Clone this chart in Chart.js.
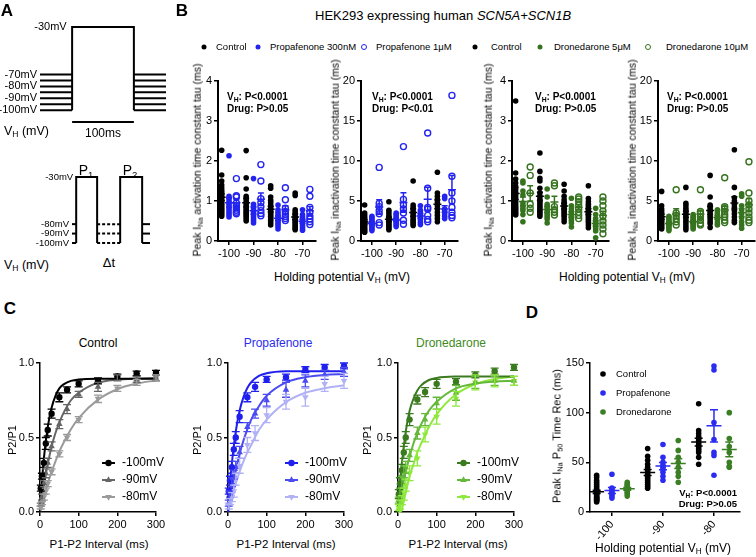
<!DOCTYPE html>
<html>
<head>
<meta charset="utf-8">
<title>Peak INa kinetics</title>
<script src="https://cdn.jsdelivr.net/npm/chart.js@4.4.1/dist/chart.umd.min.js"></script>
<style>
  html, body { margin: 0; padding: 0; background: #fff; }
  #fig { position: relative; width: 756px; height: 557px; overflow: hidden;
         font-family: "Liberation Sans", Arial, Helvetica, sans-serif; color: #000; }
  #fig canvas { position: absolute; }
  .t { position: absolute; white-space: nowrap; line-height: 1; z-index: 2; }
  .c { transform: translate(-50%, -50%); }
  .l { transform: translate(0, -50%); }
  .r { transform: translate(-100%, -50%); }
  .rot { transform: translate(-50%, -50%) rotate(-90deg); }
  .b { font-weight: bold; }
  sub { font-size: 68%; vertical-align: -0.3em; line-height: 0; }
  .dot, .odot { position: absolute; border-radius: 50%; transform: translate(-50%, -50%); z-index: 2; }
  .dot { width: 5px; height: 5px; }
  .odot { width: 4px; height: 4px; border: 1.3px solid; }
</style>
</head>
<body>
<div id="fig">
  <!-- A -->
  <div class="t c b" style="left:7px;top:10px;font-size:17px">A</div>
  <div class="t l" style="left:4px;top:131px;font-size:12.5px">V<sub>H</sub> (mV)</div>
  <div class="t c" style="left:103px;top:133px;font-size:12px">100ms</div>
  <div class="t c" style="left:86px;top:170px;font-size:14px">P<sub>1</sub></div>
  <div class="t c" style="left:130px;top:170px;font-size:14px">P<sub>2</sub></div>
  <div class="t c" style="left:109px;top:262px;font-size:13px">Δt</div>
  <div class="t l" style="left:4px;top:265px;font-size:12.5px">V<sub>H</sub> (mV)</div>

  <!-- B -->
  <div class="t c b" style="left:182px;top:10px;font-size:17px">B</div>
  <div class="t l" style="left:315px;top:15px;font-size:13px">HEK293 expressing human <i>SCN5A+SCN1B</i></div>

  <span class="dot" style="left:204px;top:47px;background:#000"></span>
  <div class="t l" style="left:216px;top:47px;font-size:9.5px">Control</div>
  <span class="dot" style="left:258px;top:47px;background:#2424f0"></span>
  <div class="t l" style="left:270px;top:47px;font-size:9.5px">Propafenone 300nM</div>
  <span class="odot" style="left:364px;top:47px;border-color:#2424f0"></span>
  <div class="t l" style="left:376px;top:47px;font-size:9.5px">Propafenone 1μM</div>
  <span class="dot" style="left:475px;top:47px;background:#000"></span>
  <div class="t l" style="left:491px;top:47px;font-size:9.5px">Control</div>
  <span class="dot" style="left:540px;top:47px;background:#36731f"></span>
  <div class="t l" style="left:554px;top:47px;font-size:9.5px">Dronedarone 5μM</div>
  <span class="odot" style="left:648px;top:47px;border-color:#36731f"></span>
  <div class="t l" style="left:666px;top:47px;font-size:9.5px">Dronedarone 10μM</div>

  <div class="t rot" style="left:197px;top:160px;font-size:10.5px">Peak I<sub>Na</sub> activation time constant tau (ms)</div>
  <div class="t rot" style="left:335px;top:160px;font-size:10.5px">Peak I<sub>Na</sub> inactivation time constant tau (ms)</div>
  <div class="t rot" style="left:488px;top:160px;font-size:10.5px">Peak I<sub>Na</sub> activation time constant tau (ms)</div>
  <div class="t rot" style="left:632px;top:160px;font-size:10.5px">Peak I<sub>Na</sub> inactivation time constant tau (ms)</div>

  <div class="t c" style="left:342px;top:277px;font-size:12px">Holding potential V<sub>H</sub> (mV)</div>
  <div class="t c" style="left:627px;top:277px;font-size:12px">Holding potential V<sub>H</sub> (mV)</div>

  <div class="t l b" style="left:227px;top:97px;font-size:10px">V<sub>H</sub>: P&lt;0.0001</div>
  <div class="t l b" style="left:227px;top:109px;font-size:10px">Drug: P&gt;0.05</div>
  <div class="t l b" style="left:372px;top:97px;font-size:10px">V<sub>H</sub>: P&lt;0.0001</div>
  <div class="t l b" style="left:372px;top:109px;font-size:10px">Drug: P&lt;0.01</div>
  <div class="t l b" style="left:535px;top:97px;font-size:10px">V<sub>H</sub>: P&lt;0.0001</div>
  <div class="t l b" style="left:535px;top:109px;font-size:10px">Drug: P&gt;0.05</div>
  <div class="t l b" style="left:667px;top:97px;font-size:10px">V<sub>H</sub>: P&lt;0.0001</div>
  <div class="t l b" style="left:667px;top:109px;font-size:10px">Drug: P&gt;0.05</div>

  <!-- C -->
  <div class="t c b" style="left:10px;top:308px;font-size:17px">C</div>
  <div class="t c" style="left:98px;top:343px;font-size:12px">Control</div>
  <div class="t c" style="left:278px;top:343px;font-size:12px;color:#2b2bf0">Propafenone</div>
  <div class="t c" style="left:451px;top:343px;font-size:12px;color:#3f8a25">Dronedarone</div>
  <div class="t rot" style="left:12px;top:440px;font-size:11px">P2/P1</div>
  <div class="t rot" style="left:197px;top:440px;font-size:11px">P2/P1</div>
  <div class="t rot" style="left:367px;top:440px;font-size:11px">P2/P1</div>
  <div class="t c" style="left:99px;top:545px;font-size:11.5px">P1-P2 Interval (ms)</div>
  <div class="t c" style="left:286px;top:545px;font-size:11.5px">P1-P2 Interval (ms)</div>
  <div class="t c" style="left:458px;top:545px;font-size:11.5px">P1-P2 Interval (ms)</div>

  <!-- D -->
  <div class="t c b" style="left:532px;top:312px;font-size:17px">D</div>
  <div class="t rot" style="left:557px;top:436px;font-size:11px">Peak I<sub>Na</sub> P<sub>50</sub> Time Rec (ms)</div>
  <div class="t c" style="left:663px;top:548px;font-size:12px">Holding potential V<sub>H</sub> (mV)</div>
  <div class="t r b" style="left:737px;top:493px;font-size:9.5px">V<sub>H</sub>: P&lt;0.0001</div>
  <div class="t r b" style="left:737px;top:504px;font-size:9.5px">Drug: P&gt;0.05</div>
</div>

<script>
// ---- panel A protocol ----
const holdTop = [-70, -75, -80, -85, -90, -95, -100];
const holdTopLabels = [-70, -80, -90, -100];
const stepV = -30;
const stepMs = 100;
const holdBottom = [-80, -90, -100];
const p1Ms = 20, gapMs = 22, p2Ms = 21;

// ---- panel B (one inner array per holding potential) ----
const vhLevels = [-100, -90, -80, -70];
const vhTicks = [-100, -90, -80, -70];
const actTicks = [0, 1, 2, 3, 4];
const inactTicks = [0, 5, 10, 15, 20];

const actCtrlP = [
  [2.27, 1.65, 1.50, 1.40, 1.33, 1.27, 1.22, 1.17, 1.12, 1.07, 1.02, 0.98, 0.94, 0.90, 0.86, 0.82, 0.78, 0.74, 0.70, 0.66, 0.62],
  [2.26, 1.58, 1.30, 1.12, 1.06, 1.00, 0.95, 0.90, 0.85, 0.80, 0.76, 0.72, 0.68, 0.64, 0.60, 0.55, 0.50],
  [1.38, 1.32, 1.10, 1.02, 0.96, 0.90, 0.85, 0.80, 0.75, 0.70, 0.66, 0.62, 0.58, 0.54, 0.50, 0.45, 0.40],
  [1.20, 1.14, 0.78, 0.73, 0.68, 0.63, 0.59, 0.55, 0.51, 0.47, 0.43, 0.39, 0.35, 0.31, 0.28]
];
const actProp300 = [
  [2.13, 1.12, 1.06, 1.00, 0.95, 0.90, 0.85, 0.80, 0.75, 0.70, 0.65, 0.60],
  [1.56, 0.92, 0.86, 0.80, 0.75, 0.70, 0.65, 0.60, 0.55, 0.50, 0.45],
  [0.90, 0.78, 0.72, 0.66, 0.61, 0.56, 0.51, 0.46, 0.41, 0.36, 0.30],
  [0.78, 0.66, 0.61, 0.56, 0.51, 0.46, 0.41, 0.36, 0.31, 0.27]
];
const actProp1 = [
  [1.56, 1.13, 1.10, 0.95, 0.88, 0.83, 0.77, 0.72, 0.68],
  [1.91, 1.50, 1.06, 0.96, 0.86, 0.76, 0.69, 0.63],
  [1.33, 1.03, 0.82, 0.74, 0.67, 0.61, 0.56, 0.51],
  [1.29, 1.12, 0.84, 0.72, 0.62, 0.55, 0.48, 0.41]
];
const inactCtrlP = [
  [4.5, 3.5, 3.25, 3.0, 2.8, 2.6, 2.4, 2.2, 2.0, 1.8, 1.6, 1.4, 1.25, 1.1],
  [4.9, 3.85, 3.55, 3.25, 3.0, 2.8, 2.6, 2.4, 2.2, 2.0, 1.8, 1.6, 1.4],
  [7.5, 4.5, 4.2, 3.9, 3.6, 3.3, 3.0, 2.7, 2.45, 2.2, 1.95],
  [8.6, 6.0, 5.6, 5.2, 4.8, 4.4, 4.0, 3.6, 3.2, 2.8, 2.4]
];
const inactProp300 = [
  [3.1, 2.9, 2.7, 2.5, 2.3, 2.1, 1.9, 1.7, 1.5, 1.3],
  [3.5, 3.3, 3.05, 2.8, 2.6, 2.4, 2.2, 2.0, 1.8],
  [4.4, 3.85, 3.55, 3.25, 2.95, 2.65, 2.35, 2.05],
  [5.6, 5.3, 4.0, 3.7, 3.4, 3.1, 2.8]
];
const inactProp1 = [
  [9.2, 4.7, 4.3, 3.8, 3.4, 2.3, 2.0],
  [11.8, 5.2, 4.5, 4.0, 3.5, 2.6, 2.1],
  [13.5, 6.6, 4.2, 4.0, 3.2, 2.7, 2.4],
  [18.2, 8.1, 6.0, 5.0, 4.2, 3.6, 3.2, 2.9]
];
const actCtrlD = [
  [3.50, 1.70, 1.55, 1.45, 1.36, 1.28, 1.21, 1.14, 1.08, 1.03, 0.98, 0.93, 0.88, 0.84, 0.80, 0.76, 0.72, 0.68, 0.65],
  [2.20, 1.74, 1.57, 1.50, 1.32, 1.20, 1.12, 1.05, 1.00, 0.95, 0.90, 0.85, 0.80, 0.76, 0.72, 0.67, 0.62],
  [1.42, 1.25, 1.12, 1.03, 0.97, 0.92, 0.87, 0.82, 0.77, 0.72, 0.67, 0.62, 0.55, 0.48],
  [1.38, 1.06, 0.98, 0.92, 0.86, 0.81, 0.76, 0.71, 0.66, 0.61, 0.56, 0.51, 0.46, 0.40, 0.33]
];
const actDro5 = [
  [1.50, 1.45, 1.25, 1.15, 0.95, 0.88, 0.82, 0.76, 0.66, 0.48],
  [1.30, 1.10, 0.92, 0.86, 0.80, 0.75, 0.70, 0.65, 0.60, 0.55, 0.45],
  [1.07, 0.88, 0.80, 0.73, 0.66, 0.61, 0.56, 0.51, 0.45, 0.35],
  [0.82, 0.66, 0.56, 0.50, 0.45, 0.40, 0.35, 0.30, 0.25, 0.08]
];
const actDro10 = [
  [1.85, 1.64, 1.20, 0.92, 0.82, 0.72],
  [1.45, 1.38, 0.86, 0.78, 0.72, 0.65],
  [1.10, 1.05, 0.98, 0.90, 0.80, 0.72, 0.64, 0.56],
  [1.10, 1.00, 0.88, 0.75, 0.62, 0.50, 0.40, 0.30, 0.18]
];
const inactCtrlD = [
  [6.2, 4.4, 4.0, 3.7, 3.4, 3.15, 2.9, 2.7, 2.5, 2.3, 2.1, 1.9, 1.7, 1.5],
  [6.7, 4.7, 4.4, 4.1, 3.8, 3.5, 3.2, 2.9, 2.6, 2.3, 2.0, 1.7, 1.4],
  [8.2, 5.5, 4.5, 4.3, 4.0, 3.7, 3.4, 3.1, 2.8, 2.5, 2.2, 1.7],
  [11.4, 6.7, 5.4, 5.0, 4.6, 4.2, 3.8, 3.4, 3.0, 2.6, 2.3]
];
const inactDro5 = [
  [3.1, 2.9, 2.7, 2.5, 2.3, 2.1, 1.9, 1.7, 1.5, 1.3],
  [3.3, 3.1, 2.9, 2.7, 2.5, 2.3, 2.1, 1.9, 1.7, 1.5],
  [3.9, 3.7, 3.4, 3.1, 2.8, 2.5, 2.2, 2.0],
  [5.9, 5.6, 4.4, 3.9, 3.4, 2.9, 2.4, 2.0, 1.6]
];
const inactDro10 = [
  [6.4, 3.5, 3.2, 2.8, 2.4, 2.0],
  [6.4, 3.7, 3.4, 3.0, 2.6, 2.2, 2.0],
  [7.9, 4.3, 4.0, 3.7, 3.3, 3.0, 2.6, 2.3],
  [9.9, 6.0, 5.0, 4.5, 4.0, 3.5, 3.0, 2.6, 2.3]
];

// ---- panel C (recovery from inactivation) ----
const intervals = [2, 5, 10, 15, 20, 30, 50, 70, 100, 150, 200, 250, 300];
const fitT = [0, 5, 10, 20, 30, 40, 50, 60, 80, 100, 150, 200, 250, 300];
const cxTicks = [0, 100, 200, 300];
const cyTicks = [0, 0.5, 1];

const ctl100 = [0.16, 0.24, 0.33, 0.46, 0.55, 0.66, 0.77, 0.82, 0.86, 0.88, 0.91, 0.93, 0.935];
const ctl90 = [0.05, 0.10, 0.19, 0.26, 0.33, 0.44, 0.59, 0.69, 0.79, 0.84, 0.90, 0.89, 0.90];
const ctl80 = [0.03, 0.06, 0.10, 0.14, 0.19, 0.27, 0.39, 0.50, 0.62, 0.76, 0.83, 0.87, 0.90];
const ctl100Err = [0.02, 0.02, 0.03, 0.04, 0.04, 0.03, 0.03, 0.02, 0.02, 0.02, 0.015, 0.015, 0.015];
const ctl90Err = [0.01, 0.02, 0.02, 0.03, 0.03, 0.03, 0.03, 0.03, 0.02, 0.03, 0.02, 0.02, 0.02];
const ctl80Err = [0.01, 0.01, 0.02, 0.02, 0.02, 0.02, 0.02, 0.02, 0.02, 0.025, 0.02, 0.02, 0.02];
const ctl100Fit = [0, 0.20, 0.36, 0.57, 0.70, 0.78, 0.83, 0.855, 0.88, 0.89, 0.895, 0.895, 0.895, 0.895];
const ctl90Fit = [0, 0.095, 0.18, 0.32, 0.44, 0.53, 0.60, 0.66, 0.75, 0.80, 0.868, 0.889, 0.896, 0.899];
const ctl80Fit = [0, 0.052, 0.10, 0.19, 0.27, 0.34, 0.405, 0.46, 0.555, 0.63, 0.754, 0.824, 0.862, 0.883];

const prop100 = [0.14, 0.21, 0.30, 0.42, 0.50, 0.64, 0.77, 0.84, 0.89, 0.905, 0.955, 0.97, 0.98];
const prop90 = [0.06, 0.12, 0.20, 0.25, 0.30, 0.40, 0.57, 0.66, 0.75, 0.82, 0.88, 0.92, 0.94];
const prop80 = [0.04, 0.07, 0.10, 0.14, 0.22, 0.31, 0.45, 0.53, 0.65, 0.74, 0.77, 0.86, 0.88];
const prop100Err = [0.02, 0.03, 0.04, 0.04, 0.04, 0.04, 0.03, 0.03, 0.02, 0.02, 0.02, 0.02, 0.02];
const prop90Err = [0.02, 0.02, 0.03, 0.03, 0.04, 0.04, 0.03, 0.03, 0.04, 0.05, 0.04, 0.03, 0.03];
const prop80Err = [0.02, 0.02, 0.03, 0.04, 0.04, 0.05, 0.05, 0.05, 0.05, 0.05, 0.06, 0.05, 0.05];
const prop100Fit = [0, 0.18, 0.326, 0.54, 0.68, 0.771, 0.832, 0.871, 0.913, 0.931, 0.944, 0.945, 0.945, 0.945];
const prop90Fit = [0, 0.08, 0.155, 0.28, 0.39, 0.48, 0.555, 0.62, 0.71, 0.78, 0.87, 0.905, 0.92, 0.925];
const prop80Fit = [0, 0.053, 0.10, 0.19, 0.27, 0.34, 0.40, 0.45, 0.55, 0.62, 0.737, 0.80, 0.83, 0.85];

const dro100 = [0.12, 0.19, 0.28, 0.40, 0.50, 0.62, 0.755, 0.805, 0.86, 0.875, 0.92, 0.945, 0.97];
const dro90 = [0.08, 0.13, 0.20, 0.27, 0.30, 0.38, 0.53, 0.62, 0.73, 0.80, 0.87, 0.88, 0.88];
const dro80 = [0.03, 0.05, 0.08, 0.12, 0.18, 0.26, 0.36, 0.52, 0.64, 0.76, 0.87, 0.88, 0.88];
const dro100Err = [0.03, 0.04, 0.04, 0.04, 0.04, 0.04, 0.03, 0.03, 0.03, 0.02, 0.02, 0.02, 0.02];
const dro90Err = [0.02, 0.03, 0.04, 0.04, 0.04, 0.04, 0.04, 0.04, 0.04, 0.05, 0.04, 0.03, 0.03];
const dro80Err = [0.02, 0.03, 0.03, 0.04, 0.04, 0.05, 0.05, 0.05, 0.05, 0.05, 0.05, 0.04, 0.03];
const dro100Fit = [0, 0.185, 0.33, 0.54, 0.68, 0.76, 0.816, 0.85, 0.886, 0.90, 0.909, 0.91, 0.91, 0.91];
const dro90Fit = [0, 0.077, 0.147, 0.27, 0.37, 0.46, 0.53, 0.59, 0.68, 0.74, 0.83, 0.862, 0.876, 0.88];
const dro80Fit = [0, 0.0, 0.02, 0.13, 0.24, 0.32, 0.40, 0.46, 0.57, 0.655, 0.79, 0.858, 0.893, 0.91];

// ---- panel D (P50 recovery time) ----
const dLevels = [-100, -90, -80];
const dyTicks = [0, 50, 100, 150];
const p50Ctrl = [
  [37, 35, 32, 30, 28, 26, 24, 22, 21, 20, 19, 18, 17, 16, 15, 14, 14, 13, 12, 12, 11, 10],
  [64, 56, 52, 48, 45, 42, 40, 38, 36, 34, 32, 30, 28, 26, 24],
  [109, 82, 79, 76, 74, 72, 70, 68, 66, 64, 62, 60, 55, 48]
];
const p50Prop = [
  [38, 24, 22, 20, 18, 16, 14],
  [68, 55, 50, 47, 45, 43, 40, 36, 32],
  [147, 143, 90, 73, 60, 57, 37]
];
const p50Dro = [
  [30, 28, 27, 25, 24, 23, 22, 20, 18, 16],
  [72, 62, 55, 50, 45, 40, 36, 30],
  [100, 74, 66, 60, 50, 46, 45]
];

// ---- styling ----
const FONT = '"Liberation Sans", Arial, Helvetica, sans-serif';
const BLUE = '#2424f0', GREEN = '#36731f';
const cCtrl = ['#000000', '#666666', '#9b9b9b'];
const cProp = ['#1f1fef', '#4b4bf2', '#b1b1f6'];
const cDro = ['#3b7b1f', '#64b83a', '#8fe93c'];

Chart.defaults.font.family = FONT;
Chart.defaults.font.size = 11;
Chart.defaults.color = '#000';
Chart.defaults.animation = false;
Chart.defaults.events = [];
Chart.defaults.plugins.legend.display = false;
Chart.defaults.plugins.tooltip.enabled = false;

// mean +- SEM for dot columns (drawn under or over the dots)
function drawMeanSem(chart, under) {
  const ctx = chart.ctx, xs = chart.scales.x, ys = chart.scales.y;
  chart.data.datasets.forEach(ds => {
    if (!ds.meanSem || !!ds.semUnder !== under) return;
    const groups = {};
    ds.data.forEach(p => (groups[p.x] = groups[p.x] || []).push(p.y));
    Object.keys(groups).forEach(k => {
      const v = groups[k], n = v.length;
      const m = v.reduce((a, b) => a + b, 0) / n;
      const sd = Math.sqrt(v.reduce((a, b) => a + (b - m) * (b - m), 0) / (n - 1));
      const se = sd / Math.sqrt(n);
      const px = xs.getPixelForValue(+k);
      const pm = ys.getPixelForValue(m), pt = ys.getPixelForValue(m + se), pb = ys.getPixelForValue(m - se);
      ctx.save();
      ctx.strokeStyle = ds.markColor;
      ctx.lineWidth = 1.5;
      ctx.beginPath();
      ctx.moveTo(px - ds.meanHalf, pm); ctx.lineTo(px + ds.meanHalf, pm);
      ctx.moveTo(px, pt); ctx.lineTo(px, pb);
      ctx.moveTo(px - ds.capHalf, pt); ctx.lineTo(px + ds.capHalf, pt);
      ctx.moveTo(px - ds.capHalf, pb); ctx.lineTo(px + ds.capHalf, pb);
      ctx.stroke();
      ctx.restore();
    });
  });
}
Chart.register({
  id: 'meanSem',
  beforeDatasetsDraw(chart) { drawMeanSem(chart, true); },
  afterDatasetsDraw(chart) { drawMeanSem(chart, false); }
});

// vertical error bars for panel C points
Chart.register({
  id: 'errBars',
  afterDatasetsDraw(chart) {
    const ctx = chart.ctx, ys = chart.scales.y;
    chart.data.datasets.forEach((ds, i) => {
      if (!ds.err) return;
      const meta = chart.getDatasetMeta(i);
      ctx.save();
      ctx.strokeStyle = ds.markColor;
      ctx.lineWidth = 1.3;
      meta.data.forEach((el, j) => {
        const y = ds.data[j].y, e = ds.err[j];
        const t = ys.getPixelForValue(y + e), b = ys.getPixelForValue(y - e);
        ctx.beginPath();
        ctx.moveTo(el.x, t); ctx.lineTo(el.x, b);
        ctx.moveTo(el.x - 4, t); ctx.lineTo(el.x + 4, t);
        ctx.moveTo(el.x - 4, b); ctx.lineTo(el.x + 4, b);
        ctx.stroke();
      });
      ctx.restore();
    });
  }
});

function mark(ctx, shape, x, y, r, color, rot) {
  ctx.fillStyle = color;
  ctx.beginPath();
  if (shape === 'triangle') {
    let a = (rot || 0) * Math.PI / 180;
    for (let k = 0; k < 3; k++) {
      const px = x + Math.sin(a) * r, py = y - Math.cos(a) * r;
      if (k) ctx.lineTo(px, py); else ctx.moveTo(px, py);
      a += 2 * Math.PI / 3;
    }
    ctx.closePath();
  } else {
    ctx.arc(x, y, r, 0, 2 * Math.PI);
  }
  ctx.fill();
}

// legend drawn inside the plot area
function boxLegend(o) {
  return {
    id: 'boxLegend',
    afterDatasetsDraw(chart) {
      const ctx = chart.ctx, a = chart.chartArea;
      ctx.save();
      ctx.font = o.size + 'px ' + FONT;
      ctx.textBaseline = 'middle';
      ctx.textAlign = 'left';
      o.items.forEach((it, i) => {
        const x = a.left + o.x, y = a.top + o.y + i * o.dy;
        if (o.line) {
          ctx.strokeStyle = it.color;
          ctx.lineWidth = 2;
          ctx.beginPath(); ctx.moveTo(x, y); ctx.lineTo(x + o.line, y); ctx.stroke();
        }
        mark(ctx, it.shape, x + o.line / 2, y, it.shape === 'triangle' ? o.r + 0.6 : o.r, it.color, it.rot);
        ctx.fillStyle = '#000';
        ctx.fillText(it.text, x + o.tx, y);
      });
      ctx.restore();
    }
  };
}

// voltage labels for the protocol sketches
function levelLabels(items, size) {
  return {
    id: 'levelLabels',
    afterDraw(chart) {
      const ctx = chart.ctx, xs = chart.scales.x, ys = chart.scales.y;
      ctx.save();
      ctx.font = size + 'px ' + FONT;
      ctx.fillStyle = '#000';
      ctx.textAlign = 'right';
      ctx.textBaseline = 'middle';
      items.forEach(it => ctx.fillText(it.text, xs.getPixelForValue(it.x) - 3, ys.getPixelForValue(it.y)));
      ctx.restore();
    }
  };
}

function mk(area, m, cfg, hidden) {
  const cv = document.createElement('canvas');
  cv.width = area.w + m.l + m.r;
  cv.height = area.h + m.t + m.b;
  cv.style.left = (area.x - m.l) + 'px';
  cv.style.top = (area.y - m.t) + 'px';
  document.getElementById('fig').appendChild(cv);
  const o = cfg.options;
  o.responsive = false;
  o.devicePixelRatio = 1;
  if (hidden) {
    o.layout = { padding: { left: m.l, top: m.t, right: m.r, bottom: m.b } };
  } else {
    o.layout = { padding: { left: 0, top: m.t, right: m.r, bottom: 0 } };
    o.scales.x.afterFit = s => { s.height = m.b; };
    o.scales.y.afterFit = s => { s.width = m.l; };
  }
  return new Chart(cv, cfg);
}

function axis(min, max, ticks, fmt, bw, extraTicks) {
  return {
    type: 'linear', min, max,
    afterBuildTicks: s => { s.ticks = ticks.map(v => ({ value: v })); },
    ticks: Object.assign({ padding: 2, color: '#000', font: { size: 11 }, autoSkip: false, maxRotation: 0, callback: fmt }, extraTicks || {}),
    grid: { drawOnChartArea: false, drawTicks: true, tickLength: 4, color: '#000', lineWidth: 1.5 },
    border: { color: '#000', width: bw }
  };
}

const num = v => String(v);

// ---- A: protocol sketches ----
function seg(pts, dash) {
  return { data: pts, showLine: true, borderColor: '#000', borderWidth: 2, pointRadius: 0,
           clip: false, borderDash: dash || [], borderCapStyle: 'butt', borderJoinStyle: 'miter' };
}
const vLow = Math.min(...holdTop);
const topSets = [];
holdTop.forEach(h => {
  topSets.push(seg([{ x: -52, y: h }, { x: 0, y: h }]));
  topSets.push(seg([{ x: stepMs, y: h }, { x: stepMs + 52, y: h }]));
});
topSets.push(seg([{ x: 0, y: vLow }, { x: 0, y: stepV }, { x: stepMs, y: stepV }, { x: stepMs, y: vLow }]));
topSets.push(seg([{ x: 0, y: -110 }, { x: stepMs, y: -110 }]));
mk({ x: 40, y: 27, w: 126, h: 95 }, { l: 40, t: 8, r: 4, b: 4 }, {
  type: 'scatter',
  data: { datasets: topSets },
  options: { scales: { x: { type: 'linear', display: false, min: -52, max: 152 },
                       y: { type: 'linear', display: false, min: -110, max: -30 } } },
  plugins: [levelLabels(holdTopLabels.map(v => ({ x: -52, y: v, text: v + 'mV' }))
    .concat([{ x: -4, y: stepV, text: stepV + 'mV' }]), 11)]
}, true);

const p2Start = p1Ms + gapMs, p2End = p2Start + p2Ms;
const vLow2 = Math.min(...holdBottom);
const botSets = [];
holdBottom.forEach(h => {
  botSets.push(seg([{ x: -4, y: h }, { x: 0, y: h }]));
  botSets.push(seg([{ x: p1Ms, y: h }, { x: p2Start, y: h }], [3, 2]));
  botSets.push(seg([{ x: p2End, y: h }, { x: 70.5, y: h }]));
});
botSets.push(seg([{ x: 0, y: vLow2 }, { x: 0, y: stepV }, { x: p1Ms, y: stepV }, { x: p1Ms, y: vLow2 }]));
botSets.push(seg([{ x: p2Start, y: vLow2 }, { x: p2Start, y: stepV }, { x: p2End, y: stepV }, { x: p2End, y: vLow2 }]));
mk({ x: 72, y: 177, w: 78, h: 66 }, { l: 72, t: 8, r: 4, b: 4 }, {
  type: 'scatter',
  data: { datasets: botSets },
  options: { scales: { x: { type: 'linear', display: false, min: -4, max: 70.5 },
                       y: { type: 'linear', display: false, min: -100, max: -30 } } },
  plugins: [levelLabels(holdBottom.map(v => ({ x: -4, y: v, text: v + 'mV' }))
    .concat([{ x: 0, y: stepV, text: stepV + 'mV' }]), 9.5)]
}, true);

// ---- B: dot plots ----
function dotSet(cols, levels, off, color, hollow, r, mh, ch, under) {
  return {
    data: levels.flatMap((lv, i) => cols[i].map(v => ({ x: lv + off, y: v }))),
    pointRadius: r,
    pointBackgroundColor: hollow ? 'rgba(0,0,0,0)' : color,
    pointBorderColor: color,
    pointBorderWidth: hollow ? 1.4 : 0,
    showLine: false,
    clip: false,
    meanSem: true, semUnder: under, markColor: color, meanHalf: mh, capHalf: ch
  };
}
function bChart(area, yMax, yTicks, series) {
  return mk(area, { l: 28, t: 10, r: 12, b: 24 }, {
    type: 'scatter',
    data: { datasets: series.map(s => dotSet(s.vals, vhLevels, s.off, s.color, s.hollow, s.hollow ? 3 : 2.8, 4, 3, true)) },
    options: { scales: { x: axis(-104.5, -64.5, vhTicks, num, 2), y: axis(0, yMax, yTicks, num, 2) } }
  });
}
bChart({ x: 218, y: 81, w: 98, h: 160 }, 4, actTicks, [
  { vals: actCtrlP, off: -3, color: '#000' },
  { vals: actProp300, off: 0, color: BLUE },
  { vals: actProp1, off: 3, color: BLUE, hollow: true }
]);
bChart({ x: 361, y: 81, w: 97, h: 160 }, 20, inactTicks, [
  { vals: inactCtrlP, off: -3, color: '#000' },
  { vals: inactProp300, off: 0, color: BLUE },
  { vals: inactProp1, off: 3, color: BLUE, hollow: true }
]);
bChart({ x: 512, y: 81, w: 97, h: 160 }, 4, actTicks, [
  { vals: actCtrlD, off: -3, color: '#000' },
  { vals: actDro5, off: 0, color: GREEN },
  { vals: actDro10, off: 3, color: GREEN, hollow: true }
]);
bChart({ x: 658, y: 81, w: 97, h: 160 }, 20, inactTicks, [
  { vals: inactCtrlD, off: -3, color: '#000' },
  { vals: inactDro5, off: 0, color: GREEN },
  { vals: inactDro10, off: 3, color: GREEN, hollow: true }
]);

// ---- C: recovery curves ----
function cChart(area, sets, lgX) {
  const ds = [];
  sets.forEach(s => ds.push({
    data: s.pts.map((v, i) => ({ x: intervals[i], y: v })),
    pointStyle: s.shape, pointRotation: s.rot, pointRadius: s.shape === 'triangle' ? 3.8 : 3.2,
    pointBackgroundColor: s.color, pointBorderColor: s.color, pointBorderWidth: 0,
    showLine: false, clip: false, err: s.err, markColor: s.color, order: 1
  }));
  sets.forEach(s => ds.push({
    data: s.fit.map((v, i) => ({ x: fitT[i], y: v })),
    showLine: true, borderColor: s.color, borderWidth: 2, pointRadius: 0,
    cubicInterpolationMode: 'monotone', clip: false, order: 2
  }));
  return mk(area, { l: 30, t: 10, r: 14, b: 24 }, {
    type: 'scatter',
    data: { datasets: ds },
    options: { scales: { x: axis(0, 300, cxTicks, num, 1.5), y: axis(0, 1, cyTicks, v => v.toFixed(1), 1.5) } },
    plugins: [boxLegend({ x: lgX, y: 100, dy: 17, line: 13, tx: 20, size: 12, r: 3.2,
      items: sets.map(s => ({ text: s.label, color: s.color, shape: s.shape, rot: s.rot })) })]
  });
}
cChart({ x: 40, y: 363, w: 116, h: 149 }, [
  { label: '-100mV', pts: ctl100, err: ctl100Err, fit: ctl100Fit, color: cCtrl[0], shape: 'circle', rot: 0 },
  { label: '-90mV', pts: ctl90, err: ctl90Err, fit: ctl90Fit, color: cCtrl[1], shape: 'triangle', rot: 0 },
  { label: '-80mV', pts: ctl80, err: ctl80Err, fit: ctl80Fit, color: cCtrl[2], shape: 'triangle', rot: 180 }
], 62);
cChart({ x: 228, y: 363, w: 116, h: 149 }, [
  { label: '-100mV', pts: prop100, err: prop100Err, fit: prop100Fit, color: cProp[0], shape: 'circle', rot: 0 },
  { label: '-90mV', pts: prop90, err: prop90Err, fit: prop90Fit, color: cProp[1], shape: 'triangle', rot: 0 },
  { label: '-80mV', pts: prop80, err: prop80Err, fit: prop80Fit, color: cProp[2], shape: 'triangle', rot: 180 }
], 57);
cChart({ x: 398, y: 363, w: 116, h: 149 }, [
  { label: '-100mV', pts: dro100, err: dro100Err, fit: dro100Fit, color: cDro[0], shape: 'circle', rot: 0 },
  { label: '-90mV', pts: dro90, err: dro90Err, fit: dro90Fit, color: cDro[1], shape: 'triangle', rot: 0 },
  { label: '-80mV', pts: dro80, err: dro80Err, fit: dro80Fit, color: cDro[2], shape: 'triangle', rot: 180 }
], 59);

// ---- D: P50 dot plot ----
mk({ x: 590, y: 363, w: 150, h: 149 }, { l: 30, t: 10, r: 14, b: 36 }, {
  type: 'scatter',
  data: { datasets: [
    dotSet(p50Ctrl, dLevels, -3, '#000', false, 2.8, 7.5, 4, false),
    dotSet(p50Prop, dLevels, 0, '#2b2bf2', false, 2.8, 7.5, 4, false),
    dotSet(p50Dro, dLevels, 3, '#3b7f24', false, 2.8, 7.5, 4, false)
  ] },
  options: { scales: {
    x: axis(-104.3, -74.9, dLevels, num, 1.5, { minRotation: 50, maxRotation: 50 }),
    y: axis(0, 150, dyTicks, num, 1.5)
  } },
  plugins: [boxLegend({ x: 13, y: 11, dy: 19, line: 0, tx: 13, size: 9.5, r: 2.8, items: [
    { text: 'Control', color: '#000', shape: 'circle' },
    { text: 'Propafenone', color: '#2b2bf2', shape: 'circle' },
    { text: 'Dronedarone', color: '#3b7f24', shape: 'circle' }
  ] })]
});
</script>
</body>
</html>
